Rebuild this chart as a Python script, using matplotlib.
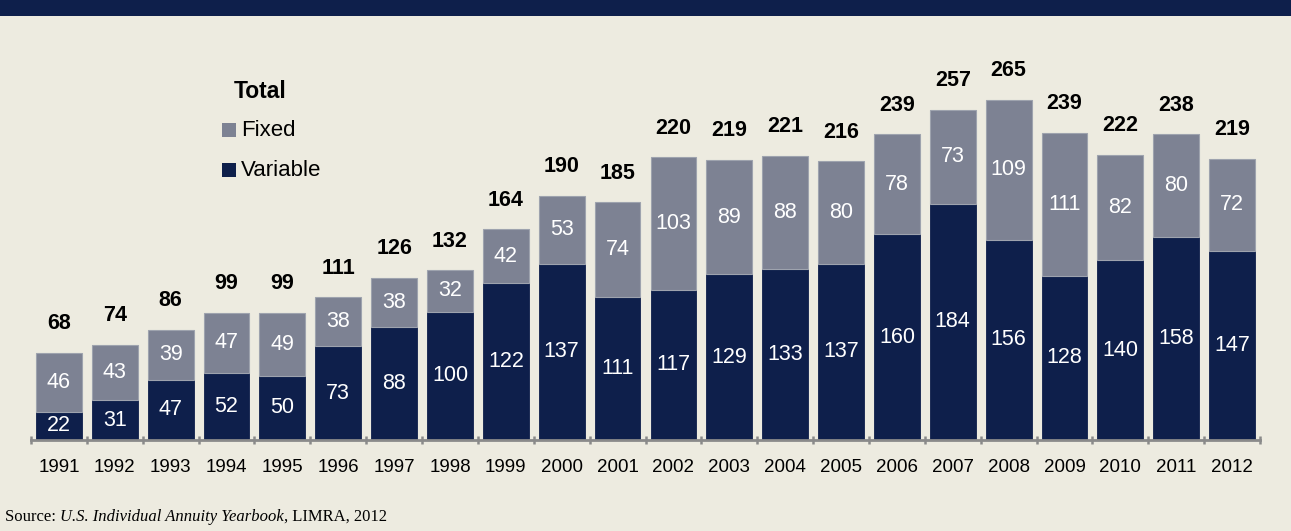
import matplotlib
matplotlib.use("Agg")
import matplotlib.pyplot as plt
from matplotlib.patches import Rectangle
import numpy as np

years = [str(y) for y in range(1991, 2013)]
variable = [22, 31, 47, 52, 50, 73, 88, 100, 122, 137, 111, 117, 129, 133, 137, 160, 184, 156, 128, 140, 158, 147]
fixed = [46, 43, 39, 47, 49, 38, 38, 32, 42, 53, 74, 103, 89, 88, 80, 78, 73, 109, 111, 82, 80, 72]
totals = [68, 74, 86, 99, 99, 111, 126, 132, 164, 190, 185, 220, 219, 221, 216, 239, 257, 265, 239, 222, 238, 219]

BG = "#EDEBE0"
NAVY = "#0E1F4B"
GRAY = "#7D8293"

W, H = 1291, 531
fig = plt.figure(figsize=(W / 100, H / 100), dpi=100, facecolor=BG)

# top banner
fig.patches.append(Rectangle((0, 1 - 16 / H), 1, 16 / H, transform=fig.transFigure,
                             facecolor=NAVY, edgecolor="none", zorder=0))

ax = fig.add_axes([31 / W, 91 / H, (1260 - 31) / W, (440 - 16) / H])
ax.set_facecolor(BG)
x = np.arange(len(years))
bw = 0.82
ax.bar(x, variable, width=bw, color=NAVY, edgecolor=NAVY, linewidth=0.6, zorder=2)
ax.bar(x, fixed, width=bw, bottom=variable, color=GRAY, edgecolor="#9EA3AE", linewidth=0.8, zorder=2)

ax.set_xlim(-0.5, len(years) - 0.5)
ax.set_ylim(0, 330)

for s in ["top", "right", "left"]:
    ax.spines[s].set_visible(False)
ax.spines["bottom"].set_color("#8A8A8A")
ax.spines["bottom"].set_linewidth(2)
ax.spines["bottom"].set_zorder(3)
ax.set_yticks([])

sans = ["Liberation Sans", "DejaVu Sans"]
ax.set_xticks(x)
ax.set_xticklabels(years, family=sans)
ax.tick_params(axis="x", length=0, pad=14, labelsize=13.5)
ax.set_xticks(np.arange(len(years) + 1) - 0.5, minor=True)
ax.tick_params(axis="x", which="minor", length=6, width=1.8, color="#8A8A8A", direction="inout")

for i in range(len(years)):
    ax.text(x[i], variable[i] / 2, str(variable[i]), ha="center", va="center",
            color="white", fontsize=15.5, family=sans, zorder=4)
    ax.text(x[i], variable[i] + fixed[i] / 2, str(fixed[i]), ha="center", va="center",
            color="white", fontsize=15.5, family=sans, zorder=4)
    ax.annotate(str(totals[i]), (x[i], variable[i] + fixed[i]), xytext=(0, 21),
                textcoords="offset points", ha="center", va="center",
                fontsize=15.5, fontweight="bold", family=sans, color="black")

# legend
fig.text(234 / W, 1 - 92 / H, "Total", fontsize=16.5, fontweight="bold", family=sans,
         ha="left", va="center")
for yy, col, lab in [(130, GRAY, "Fixed"), (170, NAVY, "Variable")]:
    fig.patches.append(Rectangle((222 / W, 1 - (yy + 7) / H), 14 / W, 14 / H,
                                 transform=fig.transFigure, facecolor=col, edgecolor="none"))
    fig.text(241 / W, 1 - yy / H, lab, fontsize=16, family=sans, ha="left", va="center")

# source line (mixed regular / italic)
fig.canvas.draw()
renderer = fig.canvas.get_renderer()
parts = [("Source: ", "normal"), ("U.S. Individual Annuity Yearbook", "italic"), (", LIMRA, 2012", "normal")]
xpos = 5
for txt, style in parts:
    t = fig.text(xpos / W, 1 - 517 / H, txt, fontsize=12, family="Liberation Serif",
                 style=style, ha="left", va="center")
    bb = t.get_window_extent(renderer=renderer)
    xpos += bb.width

fig.savefig("out.png", dpi=100, facecolor=BG)
